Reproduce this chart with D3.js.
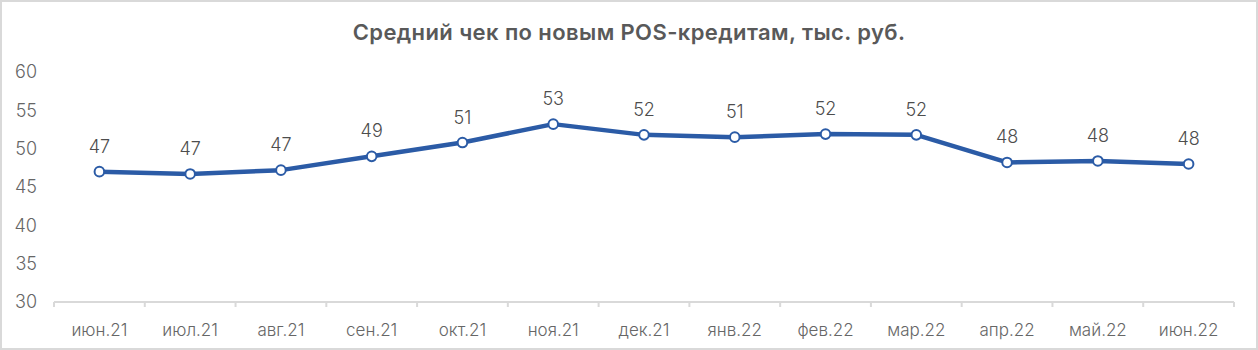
<!DOCTYPE html>
<html><head><meta charset="utf-8">
<script src="https://cdn.jsdelivr.net/npm/d3@7"></script>
<style>html,body{margin:0;padding:0;background:#fff;}svg{display:block;}</style>
</head><body>
<script>
const categories = ["июн.21","июл.21","авг.21","сен.21","окт.21","ноя.21","дек.21","янв.22","фев.22","мар.22","апр.22","май.22","июн.22"];
const values = [47.0, 46.7, 47.2, 49.0, 50.8, 53.2, 51.8, 51.5, 51.9, 51.8, 48.2, 48.4, 48.0];
const labels = ["47","47","47","49","51","53","52","51","52","52","48","48","48"];
const yTicks = [30,35,40,45,50,55,60];
const title = "Средний чек по новым POS-кредитам, тыс. руб.";

(function(){
const W = 1258, H = 350;
const svg = d3.select("body").append("svg").attr("width", W).attr("height", H);
svg.append("rect").attr("x",1).attr("y",1).attr("width",W-2).attr("height",H-2)
  .attr("fill","#fff").attr("stroke","#d9d9d9").attr("stroke-width",2);

const mLeft = 54, mRight = 1234, mTop = 72, mBottom = 302;
const x = d3.scaleBand().domain(categories).range([mLeft, mRight]);
const y = d3.scaleLinear().domain([30, 60]).range([mBottom, mTop]);

svg.append("text").attr("x", 629).attr("y", 40).attr("text-anchor","middle")
  .attr("font-family","Inter, sans-serif").attr("font-weight",600).attr("font-size",22)
  .attr("letter-spacing","0.4px")
  .attr("fill","#595959").text(title);

const ya = svg.append("g").attr("transform",`translate(${mLeft-17},0)`)
  .call(d3.axisLeft(y).tickValues(yTicks).tickSize(0).tickPadding(0));
ya.select(".domain").remove();
ya.selectAll("text").attr("font-family","Inter, sans-serif").attr("font-weight",300)
  .attr("font-size",18).attr("fill","#666666");

const xa = svg.append("g").attr("transform",`translate(0,${mBottom})`)
  .call(d3.axisBottom(x).tickSize(0).tickPadding(22));
xa.select(".domain").attr("stroke","#d9d9d9").attr("stroke-width",2).attr("d",`M${mLeft},0H${mRight}`);
xa.selectAll("text").attr("font-family","Inter, sans-serif").attr("font-weight",300)
  .attr("font-size",17).attr("fill","#666666");
const bounds = categories.map(c => x(c)).concat([mRight]);
xa.selectAll(".sep").data(bounds).enter().append("line").attr("class","sep")
  .attr("x1",d=>d).attr("x2",d=>d).attr("y1",0).attr("y2",5)
  .attr("stroke","#d9d9d9").attr("stroke-width",2);

const cx = d => x(d) + x.bandwidth()/2;
const line = d3.line().x((d,i)=>cx(categories[i])).y(d=>y(d));
svg.append("path").datum(values).attr("d",line).attr("fill","none")
  .attr("stroke","#2b5ba6").attr("stroke-width",4.5).attr("stroke-linejoin","round");
svg.selectAll(".pt").data(values).enter().append("circle")
  .attr("cx",(d,i)=>cx(categories[i])).attr("cy",d=>y(d)).attr("r",4.8)
  .attr("fill","#fff").attr("stroke","#2b5ba6").attr("stroke-width",2);
svg.selectAll(".lbl").data(values).enter().append("text")
  .attr("x",(d,i)=>cx(categories[i])).attr("y",d=>y(d)-19).attr("text-anchor","middle")
  .attr("font-family","Inter, sans-serif").attr("font-weight",300).attr("font-size",18).attr("fill","#4d4d4d")
  .text((d,i)=>labels[i]);
})();
</script>
</body></html>
